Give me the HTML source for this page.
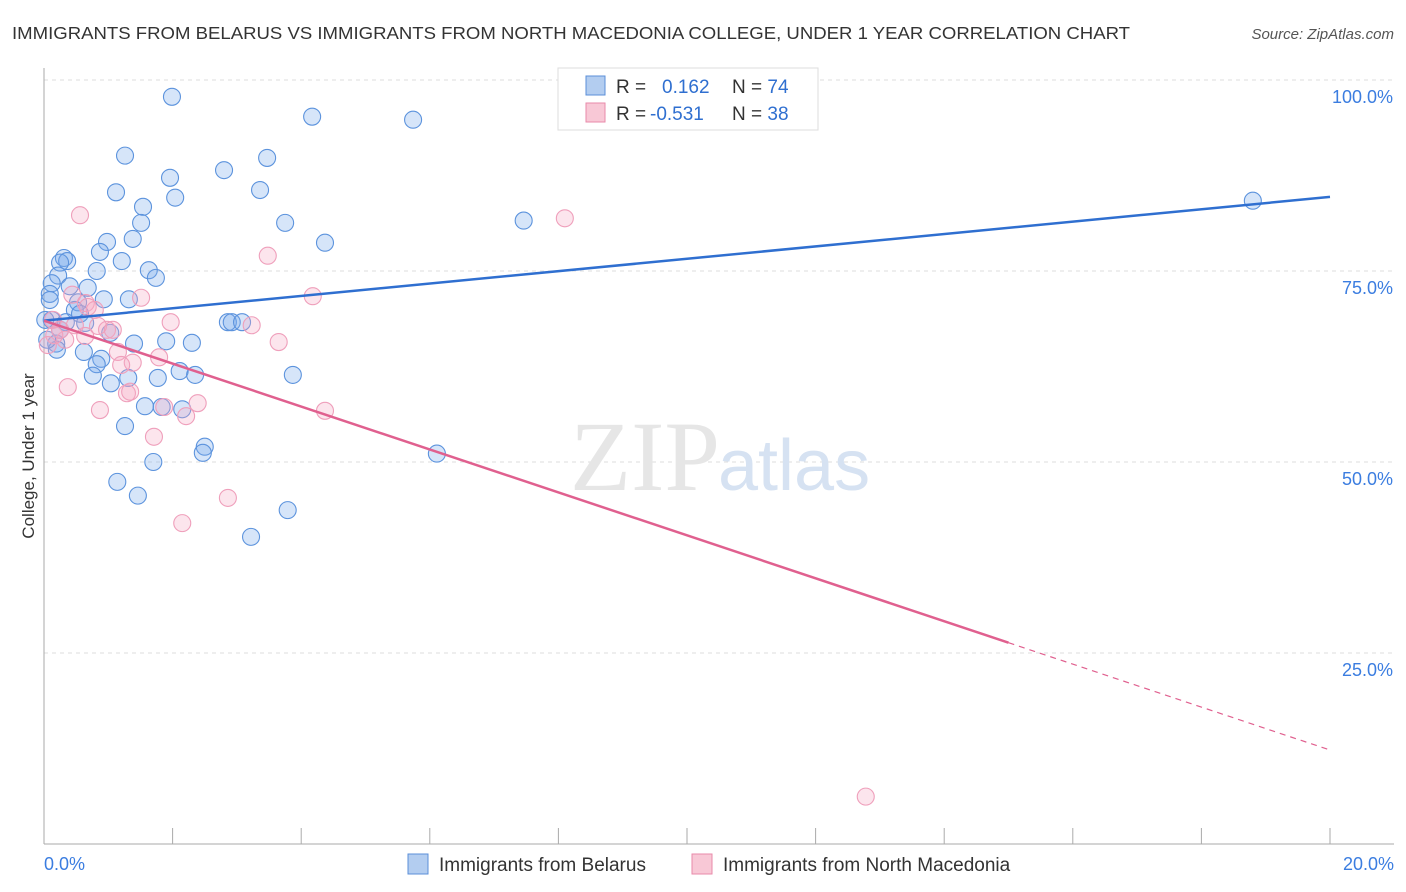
<!DOCTYPE html>
<html><head><meta charset="utf-8"><style>
body{margin:0;background:#fff;font-family:"Liberation Sans",sans-serif;}
svg{display:block}
</style></head><body>
<svg id="c" width="1406" height="892">
<text x="12" y="39" font-size="17.5" fill="#333" textLength="1118" lengthAdjust="spacingAndGlyphs">IMMIGRANTS FROM BELARUS VS IMMIGRANTS FROM NORTH MACEDONIA COLLEGE, UNDER 1 YEAR CORRELATION CHART</text>
<text x="1394" y="39" font-size="15" fill="#555" font-style="italic" text-anchor="end">Source: ZipAtlas.com</text>
<g id="grid"></g>
<text x="720" y="490" font-size="100" fill="#e6e6e6" text-anchor="end" font-family="Liberation Serif,serif">ZIP</text>
<text x="718" y="490" font-size="72" fill="#d6e2f2">atlas</text>
<g id="pts"></g><g id="lines"></g>
<text transform="translate(34,456) rotate(-90)" font-size="17" fill="#333" text-anchor="middle">College, Under 1 year</text>
<g>
<rect x="558" y="68" width="260" height="62" fill="#fff" stroke="#ddd"/>
<rect x="586" y="76" width="19" height="19" fill="#b3cdf0" stroke="#5b8fd8"/>
<rect x="586" y="103" width="19" height="19" fill="#f8c8d6" stroke="#e88aaa"/>
<text x="616" y="93" font-size="19" fill="#333">R = <tspan fill="#2f6fd0" x="662">0.162</tspan><tspan x="732" fill="#333">N = </tspan><tspan fill="#2f6fd0">74</tspan></text>
<text x="616" y="120" font-size="19" fill="#333">R = <tspan fill="#2f6fd0" x="650">-0.531</tspan><tspan x="732" fill="#333">N = </tspan><tspan fill="#2f6fd0">38</tspan></text>
</g>
<g>
<rect x="408" y="854" width="20" height="20" fill="#b3cdf0" stroke="#5b8fd8"/>
<text x="439" y="871" font-size="19" fill="#333">Immigrants from Belarus</text>
<rect x="692" y="854" width="20" height="20" fill="#f8c8d6" stroke="#e88aaa"/>
<text x="723" y="871" font-size="19" fill="#333">Immigrants from North Macedonia</text>
</g>
</svg>
<script>
const blueX=[1.99,4.17,5.74,1.26,3.47,2.80,1.96,1.12,3.36,2.04,1.54,1.51,3.75,7.46,18.80,0.98,1.38,4.37,0.87,0.31,0.36,0.25,1.21,1.63,0.82,1.74,0.22,0.12,0.40,0.68,0.09,0.93,1.32,0.53,0.48,0.56,0.12,0.34,0.64,1.03,2.86,2.92,3.08,1.90,2.30,1.40,0.19,0.20,0.62,0.89,0.82,0.76,1.04,1.77,1.31,2.11,2.35,3.87,1.57,1.83,2.15,1.26,1.70,2.50,2.47,6.11,1.14,1.46,3.79,3.22,0.05,0.09,0.25,0.02];
const blueY=[97.8,95.2,94.8,90.1,89.8,88.2,87.2,85.3,85.6,84.6,83.4,81.3,81.3,81.6,84.2,78.8,79.2,78.7,77.5,76.7,76.3,76.1,76.3,75.1,75.0,74.1,74.4,73.4,73.0,72.8,72.0,71.3,71.3,70.9,69.9,69.4,68.6,68.3,68.2,66.9,68.3,68.3,68.3,65.8,65.6,65.5,65.5,64.7,64.4,63.5,62.8,61.3,60.3,61.0,61.0,61.9,61.4,61.4,57.3,57.2,56.9,54.7,50.0,52.0,51.2,51.1,47.4,45.6,43.7,40.2,66.0,71.2,67.3,68.6];
const pinkX=[0.56,8.10,3.48,0.44,0.65,1.51,0.68,0.79,0.14,1.97,3.23,4.18,0.64,0.33,3.65,0.16,0.06,1.15,1.79,1.38,1.20,0.37,1.29,1.34,0.87,2.39,1.87,2.21,1.71,2.86,2.15,4.37,12.78,0.98,0.84,0.25,0.48,1.07];
const pinkY=[82.3,81.9,77.0,71.9,70.8,71.5,70.3,69.9,68.6,68.3,67.9,71.7,66.5,66.0,65.7,66.6,65.3,64.4,63.7,63.0,62.7,59.8,59.0,59.2,56.8,57.7,57.2,56.0,53.3,45.3,42.0,56.7,6.2,67.3,67.8,67.3,67.9,67.3];
const trendIntercept=[68.5,68.5];
const trendSlope=[0.81,-2.81];
const yTicks=[25,50,75,100];
const xTickLabels=["0.0%","20.0%"];
const NS='http://www.w3.org/2000/svg';
const X=v=>44+v/20*1286, Y=v=>844-v/25*191;
function mk(t,a,p){const e=document.createElementNS(NS,t);for(const k in a)e.setAttribute(k,a[k]);(p).appendChild(e);return e;}
const g=document.getElementById('grid');
yTicks.forEach(t=>{
 const l=mk('line',{x1:44,x2:1394,y1:Y(t),y2:Y(t),stroke:'#ddd','stroke-dasharray':'4,4'},g);
 
 
 const tx=mk('text',{x:1393,y:Y(t)+23,'font-size':18,fill:'#3b7de0','text-anchor':'end'},g);
 tx.textContent=t.toFixed(1)+'%';
 
 
});
const ax=mk('line',{x1:44,x2:44,y1:68,y2:844,stroke:'#aaa'},g);


const bx=mk('line',{x1:44,x2:1394,y1:844,y2:844,stroke:'#aaa'},g);


for(let i=0;i<=10;i++){
 const tk=mk('line',{x1:X(i*2),x2:X(i*2),y1:828,y2:844,stroke:'#aaa'},g);
 
 
}
[[0,44,'start'],[20,1394,'end']].forEach((d,i)=>{
 const tx=mk('text',{x:d[1],y:870,'font-size':18,fill:'#3b7de0','text-anchor':d[2]},g);
 tx.textContent=xTickLabels[i];
 
 
});
const p=document.getElementById('pts');
blueX.forEach((x,i)=>{
 const c=mk('circle',{cx:X(x),cy:Y(blueY[i]),r:8.5,fill:'rgba(120,170,235,0.3)',stroke:'#5c93dd','stroke-width':1.1},p);
 
 
});
pinkX.forEach((x,i)=>{
 const c=mk('circle',{cx:X(x),cy:Y(pinkY[i]),r:8.5,fill:'rgba(245,170,195,0.3)',stroke:'#ef9fbb','stroke-width':1.1},p);
 
 
});
const L=document.getElementById('lines');
const f=(k,x)=>trendIntercept[k]+trendSlope[k]*x;
const b=mk('line',{x1:X(0),y1:Y(f(0,0)),x2:X(20),y2:Y(f(0,20)),stroke:'#2f6fd0','stroke-width':2.5},L);


const pk=mk('line',{x1:X(0),y1:Y(f(1,0)),x2:X(15),y2:Y(f(1,15)),stroke:'#e0608f','stroke-width':2.5},L);


const pd=mk('line',{x1:X(15),y1:Y(f(1,15)),x2:X(20),y2:Y(f(1,20)),stroke:'#e0608f','stroke-width':1.2,'stroke-dasharray':'6,5'},L);


</script>
</body></html>
